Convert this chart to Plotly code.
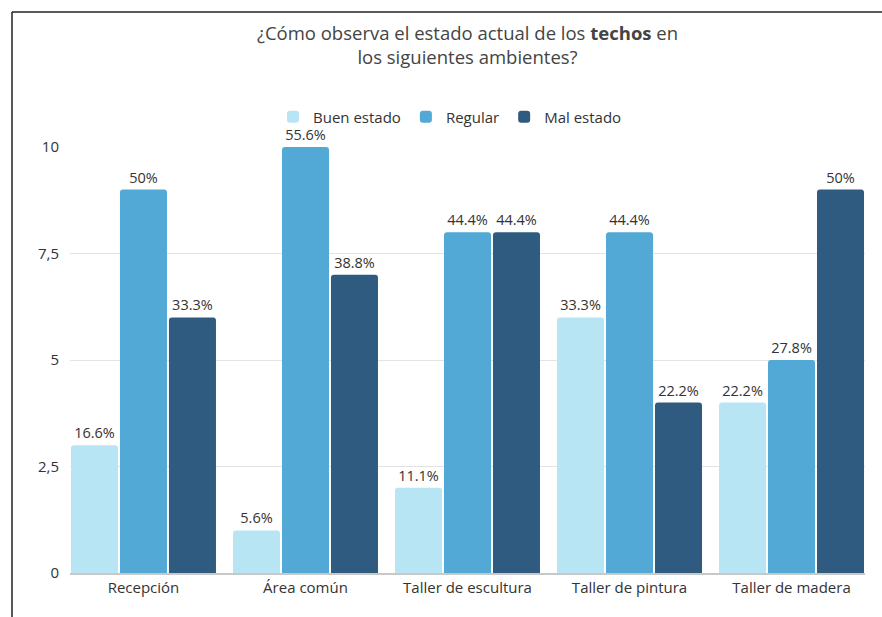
import plotly.graph_objects as go

# Ambientes evaluados
categorias = ["Recepción", "Área común", "Taller de escultura", "Taller de pintura", "Taller de madera"]

# Número de respuestas por estado
buen_estado = [3, 1, 2, 6, 4]
regular = [9, 10, 8, 8, 5]
mal_estado = [6, 7, 8, 4, 9]

# Etiquetas porcentuales mostradas sobre cada barra
buen_estado_pct = ["16.6%", "5.6%", "11.1%", "33.3%", "22.2%"]
regular_pct = ["50%", "55.6%", "44.4%", "44.4%", "27.8%"]
mal_estado_pct = ["33.3%", "38.8%", "44.4%", "22.2%", "50%"]

# Marcas del eje vertical
y_ticks = [0, 2.5, 5, 7.5, 10]
y_tick_text = ["0", "2,5", "5", "7,5", "10"]

FONT = "Open Sans"
TXT = "#333333"

series = [
    ("Buen estado", buen_estado, buen_estado_pct, "#b8e5f4"),
    ("Regular", regular, regular_pct, "#52a9d5"),
    ("Mal estado", mal_estado, mal_estado_pct, "#2f5b80"),
]

fig = go.Figure()
for nombre, valores, etiquetas, color in series:
    fig.add_trace(go.Bar(
        name=nombre,
        x=categorias,
        y=valores,
        text=etiquetas,
        textposition="outside",
        textfont=dict(family=FONT, size=14.5, color=TXT),
        marker=dict(color=color, line=dict(width=0), cornerradius=3),
        cliponaxis=False,
    ))

W, H = 882, 617
L, R, T, B = 70, 17, 147, 44

fig.update_layout(
    width=W,
    height=H,
    margin=dict(l=L, r=R, t=T, b=B, pad=0),
    paper_bgcolor="white",
    plot_bgcolor="white",
    barmode="group",
    bargap=0.093,
    bargroupgap=0.04,
    font=dict(family=FONT, size=15, color=TXT),
    title=dict(
        text="¿Cómo observa el estado actual de los <b>techos</b> en<br>los siguientes ambientes?",
        x=0.5,
        xref="paper",
        xanchor="center",
        y=1 - 40 / H,
        yref="container",
        yanchor="top",
        font=dict(family=FONT, size=18.5, color="#444444"),
    ),
    legend=dict(
        orientation="h",
        x=(450 - L) / (W - L - R),
        xanchor="center",
        y=(H - B - 117) / (H - T - B),
        yanchor="middle",
        font=dict(family=FONT, size=15, color=TXT),
        bgcolor="rgba(0,0,0,0)",
        itemclick=False,
    ),
    xaxis=dict(
        range=[-0.5 + 0.0465, 4.5 - 0.0465],
        showgrid=False,
        showline=True,
        linecolor="#c8c8c8",
        linewidth=1.5,
        ticks="",
        tickfont=dict(family=FONT, size=15, color=TXT),
        fixedrange=True,
    ),
    yaxis=dict(
        range=[0, 10],
        tickvals=y_ticks,
        ticktext=y_tick_text,
        showgrid=True,
        gridcolor="#e3e3e3",
        gridwidth=1,
        zeroline=False,
        showline=False,
        ticks="",
        ticklabelstandoff=10,
        tickfont=dict(family=FONT, size=15, color=TXT),
        fixedrange=True,
    ),
)

# Marco del recuadro (bordes superior e izquierdo)
fig.add_shape(type="line", xref="paper", yref="paper",
              x0=(12 - L) / (W - L - R), x1=(W + 5 - L) / (W - L - R),
              y0=(H - B - 12) / (H - T - B), y1=(H - B - 12) / (H - T - B),
              line=dict(color="#222222", width=1.5))
fig.add_shape(type="line", xref="paper", yref="paper",
              x0=(12 - L) / (W - L - R), x1=(12 - L) / (W - L - R),
              y0=(H - B - 12) / (H - T - B), y1=(H - B - H - 5) / (H - T - B),
              line=dict(color="#222222", width=1.5))

fig.write_html("out.html")
